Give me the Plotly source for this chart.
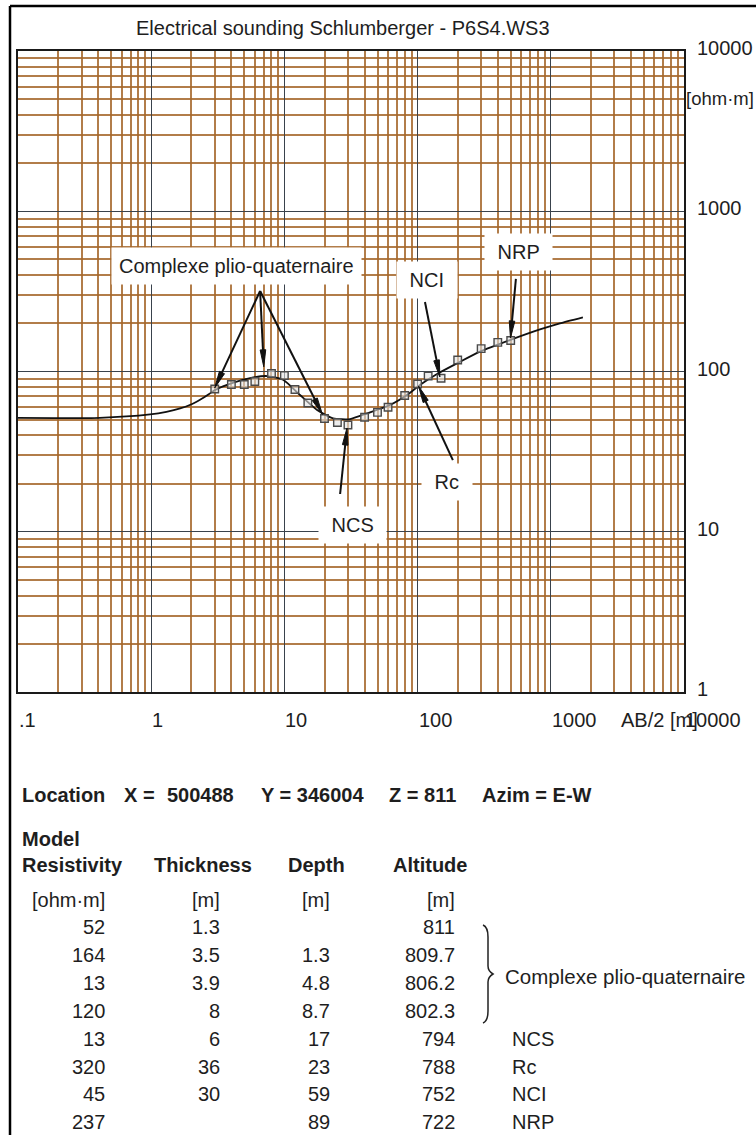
import numpy as np
import plotly.graph_objects as go

# ---------------- data ----------------
obs_ab2 = [3, 4, 5, 6, 8, 10, 12, 15, 20, 25, 30, 40, 50, 60, 80, 100, 120, 150, 200, 300, 400, 500]
obs_rho = [77.8, 83, 83, 86.6, 97.2, 94.4, 77.2, 63.6, 50.9, 48.1, 46.4, 51.8, 55.6, 59.8,
           70.8, 83.6, 93.7, 90.7, 118, 139, 152, 156]

curve_ab2 = [0.1, 0.41, 0.98, 1.3, 1.65, 2.03, 2.5, 3.02, 4.2, 5.53, 7.42, 9.78, 13.1, 17.6, 23.2, 31.1,
             41.7, 62.1, 83.2, 104, 140, 198, 294, 493, 829, 1170, 1742]
curve_rho = [51.3, 51.4, 54, 56, 58.8, 62.7, 69, 76.7, 85.5, 91, 93.7, 88.9, 71.3, 57.5, 51, 50.5,
             54.8, 61.8, 71.3, 82.4, 96.5, 112.5, 133, 157, 183, 200, 218]

x_tick_vals = [0.1, 1, 10, 100, 1000, 10000]
x_tick_text = [".1", "1", "10", "100", "1000", "10000"]
y_tick_vals = [1, 10, 100, 1000, 10000]
y_tick_text = ["1", "10", "100", "1000", "10000"]

model_resistivity = ["52", "164", "13", "120", "13", "320", "45", "237"]
model_thickness = ["1.3", "3.5", "3.9", "8", "6", "36", "30", ""]
model_depth = ["", "1.3", "4.8", "8.7", "17", "23", "59", "89"]
model_altitude = ["811", "809.7", "806.2", "802.3", "794", "788", "752", "722"]
layer_names = ["", "", "", "", "NCS", "Rc", "NCI", "NRP"]
group_name = "Complexe plio-quaternaire"

title_text = "Electrical sounding Schlumberger - P6S4.WS3"
location_parts = ["Location", "X =", "500488", "Y = 346004", "Z = 811", "Azim = E-W"]

# chart labels: (text, label centre (ab2, rho), list of arrows (tail ab2, tail rho, tip ab2, tip rho))
chart_labels = [
    ("Complexe plio-quaternaire", (4.34, 455),
     [(6.57, 318, 3.0, 79), (6.57, 318, 7.0, 107), (6.57, 318, 19.3, 54)]),
    (" NCI ", (117.6, 372), [(113.6, 271.6, 147, 92.4)]),
    (" NRP ", (576, 557), [(547, 378, 498, 162)]),
    (" NCS ", (32.2, 11.0), [(26.2, 17.2, 29.5, 44.4)]),
    (" Rc ", (166, 20.4), [(184, 28.0, 101.6, 81.2)]),
]

# ---------------- layout geometry ----------------
W, H = 756, 1135
L, R, T, B = 18, 684, 51, 692
XR = [-1, 4]
YR = [0, 4]
FONT = "Liberation Sans, Arial, sans-serif"
TXT = "#1e1e1e"


def px2paper(px, py):
    return (px - L) / (R - L), (B - py) / (B - T)


def data2px(x, y):
    px = L + (np.log10(x) - XR[0]) / (XR[1] - XR[0]) * (R - L)
    py = B - (np.log10(y) - YR[0]) / (YR[1] - YR[0]) * (B - T)
    return px, py


annotations = []
shapes = []


def text_px(text, px, py, anchor="left", size=20, bold=False, bg=None, pad=0):
    x, y = px2paper(px, py)
    t = "<b>%s</b>" % text if bold else text
    d = dict(text=t, x=x, y=y, xref="paper", yref="paper", xanchor=anchor, yanchor="middle",
             showarrow=False, font=dict(family=FONT, size=size, color=TXT))
    if bg:
        d.update(bgcolor=bg, borderpad=pad)
    annotations.append(d)


# title
text_px(title_text, 342.5, 28, anchor="center", size=20)

# x tick labels (left aligned at the tick)
for v, t in zip(x_tick_vals, x_tick_text):
    px, _ = data2px(v, 1)
    text_px(t, px - 1, 720)
text_px("AB/2 [m]", 619, 720)

# y tick labels on the right
for v, t in zip(y_tick_vals, y_tick_text):
    _, py = data2px(1, v)
    text_px(t, 695, py - 3)
text_px("[ohm·m]", 684, 98, size=18.5)

# chart labels with arrows
for text, (lx, ly), arrows in chart_labels:
    for (tx, ty, hx, hy) in arrows:
        p0 = np.array(data2px(tx, ty))
        p1 = np.array(data2px(hx, hy))
        d = p1 - p0
        d = d / np.linalg.norm(d)
        n = np.array([-d[1], d[0]])
        base = p1 - d * 17
        a = px2paper(*p0)
        b = px2paper(*(p1 - d * 8))
        shapes.append(dict(type="line", xref="paper", yref="paper", x0=a[0], y0=a[1],
                           x1=b[0], y1=b[1], line=dict(color="#111", width=2)))
        q1 = px2paper(*p1)
        q2 = px2paper(*(base + n * 2.8))
        q3 = px2paper(*(base - n * 2.8))
        shapes.append(dict(type="path", xref="paper", yref="paper",
                           path="M %f %f L %f %f L %f %f Z" % (q1[0], q1[1], q2[0], q2[1], q3[0], q3[1]),
                           fillcolor="#111", line=dict(color="#111", width=1)))
    lpx, lpy = data2px(lx, ly)
    text_px(text, lpx, lpy, anchor="center", size=20, bg="white", pad=7)

# ---------------- table ----------------
loc_x = [20, 122, 165, 259, 387, 480]
for t, x in zip(location_parts, loc_x):
    text_px(t, x, 795, bold=True)
text_px("Model", 20, 839, bold=True)
for t, x in zip(["Resistivity", "Thickness", "Depth", "Altitude"], [20, 152, 286, 391]):
    text_px(t, x, 865, bold=True)
col_right = [107, 222, 332, 457]
for t, x in zip(["[ohm·m]", "[m]", "[m]", "[m]"], col_right):
    text_px(t, x, 900, anchor="right")
row_y0, row_dy = 927, 27.9
for i in range(len(model_resistivity)):
    y = row_y0 + i * row_dy
    for col, x in zip([model_resistivity, model_thickness, model_depth, model_altitude], col_right):
        if col[i]:
            text_px(col[i], x, y, anchor="right")
    if layer_names[i]:
        text_px(layer_names[i], 510, y)
text_px(group_name, 503, 977, size=20.5)

# curly brace
bx0, bx1, by0, by1 = 483, 493, 925, 1023
bm = (by0 + by1) / 2
pts = [(bx0, by0), (bx0 + 5, by0 + 2), (bx0 + 5, by0 + 12), (bx0 + 5, bm - 8), (bx0 + 5, bm - 3),
       (bx1, bm), (bx0 + 5, bm + 3), (bx0 + 5, bm + 8), (bx0 + 5, by1 - 12), (bx0 + 5, by1 - 2), (bx0, by1)]
pp = [px2paper(*p) for p in pts]
path = "M %f %f Q %f %f %f %f L %f %f Q %f %f %f %f Q %f %f %f %f L %f %f Q %f %f %f %f" % (
    pp[0][0], pp[0][1], pp[1][0], pp[1][1], pp[2][0], pp[2][1], pp[3][0], pp[3][1],
    pp[4][0], pp[4][1], pp[5][0], pp[5][1], pp[6][0], pp[6][1], pp[7][0], pp[7][1],
    pp[8][0], pp[8][1], pp[9][0], pp[9][1], pp[10][0], pp[10][1])
shapes.append(dict(type="path", xref="paper", yref="paper", path=path,
                   line=dict(color="#222", width=1.5)))

# outer frame lines
f1 = px2paper(10, 6)
f2 = px2paper(10, H + 5)
f3 = px2paper(W + 5, 6)
shapes.append(dict(type="line", xref="paper", yref="paper", x0=f1[0], y0=f1[1], x1=f2[0], y1=f2[1],
                   line=dict(color="black", width=2.5)))
shapes.append(dict(type="line", xref="paper", yref="paper", x0=f1[0], y0=f1[1], x1=f3[0], y1=f3[1],
                   line=dict(color="black", width=2.5)))

# ---------------- figure ----------------
fig = go.Figure()
fig.add_trace(go.Scatter(x=curve_ab2, y=curve_rho, mode="lines",
                         line=dict(color="#111", width=1.8, shape="spline", smoothing=0.6),
                         hoverinfo="skip", showlegend=False))
fig.add_trace(go.Scatter(x=obs_ab2, y=obs_rho, mode="markers",
                         marker=dict(symbol="square", size=7.5, color="rgba(225,225,225,0.6)",
                                     line=dict(color="#4a4a4a", width=1.4)),
                         showlegend=False))

minor_x = [d * k for d in x_tick_vals[:-1] for k in range(2, 10)]
minor_y = [d * k for d in y_tick_vals[:-1] for k in range(2, 10)]
brown = "rgba(165,102,42,0.85)"
axis_common = dict(type="log", showticklabels=False, ticks="", zeroline=False,
                   showgrid=True, gridcolor="#39424c", gridwidth=1.2,
                   showline=True, mirror=True, linecolor="#1a1a1a", linewidth=2)
fig.update_xaxes(range=XR, tickvals=x_tick_vals, **axis_common,
                 minor=dict(tickvals=minor_x, showgrid=True, gridcolor=brown, gridwidth=1.5, ticks=""))
fig.update_yaxes(range=YR, tickvals=y_tick_vals, **axis_common,
                 minor=dict(tickvals=minor_y, showgrid=True, gridcolor=brown, gridwidth=1.5, ticks=""))

fig.update_layout(width=W, height=H, autosize=False,
                  margin=dict(l=L, r=W - R, t=T, b=H - B, pad=0),
                  paper_bgcolor="white", plot_bgcolor="white",
                  annotations=annotations, shapes=shapes,
                  font=dict(family=FONT, size=20, color=TXT))

fig.write_html("out.html")
